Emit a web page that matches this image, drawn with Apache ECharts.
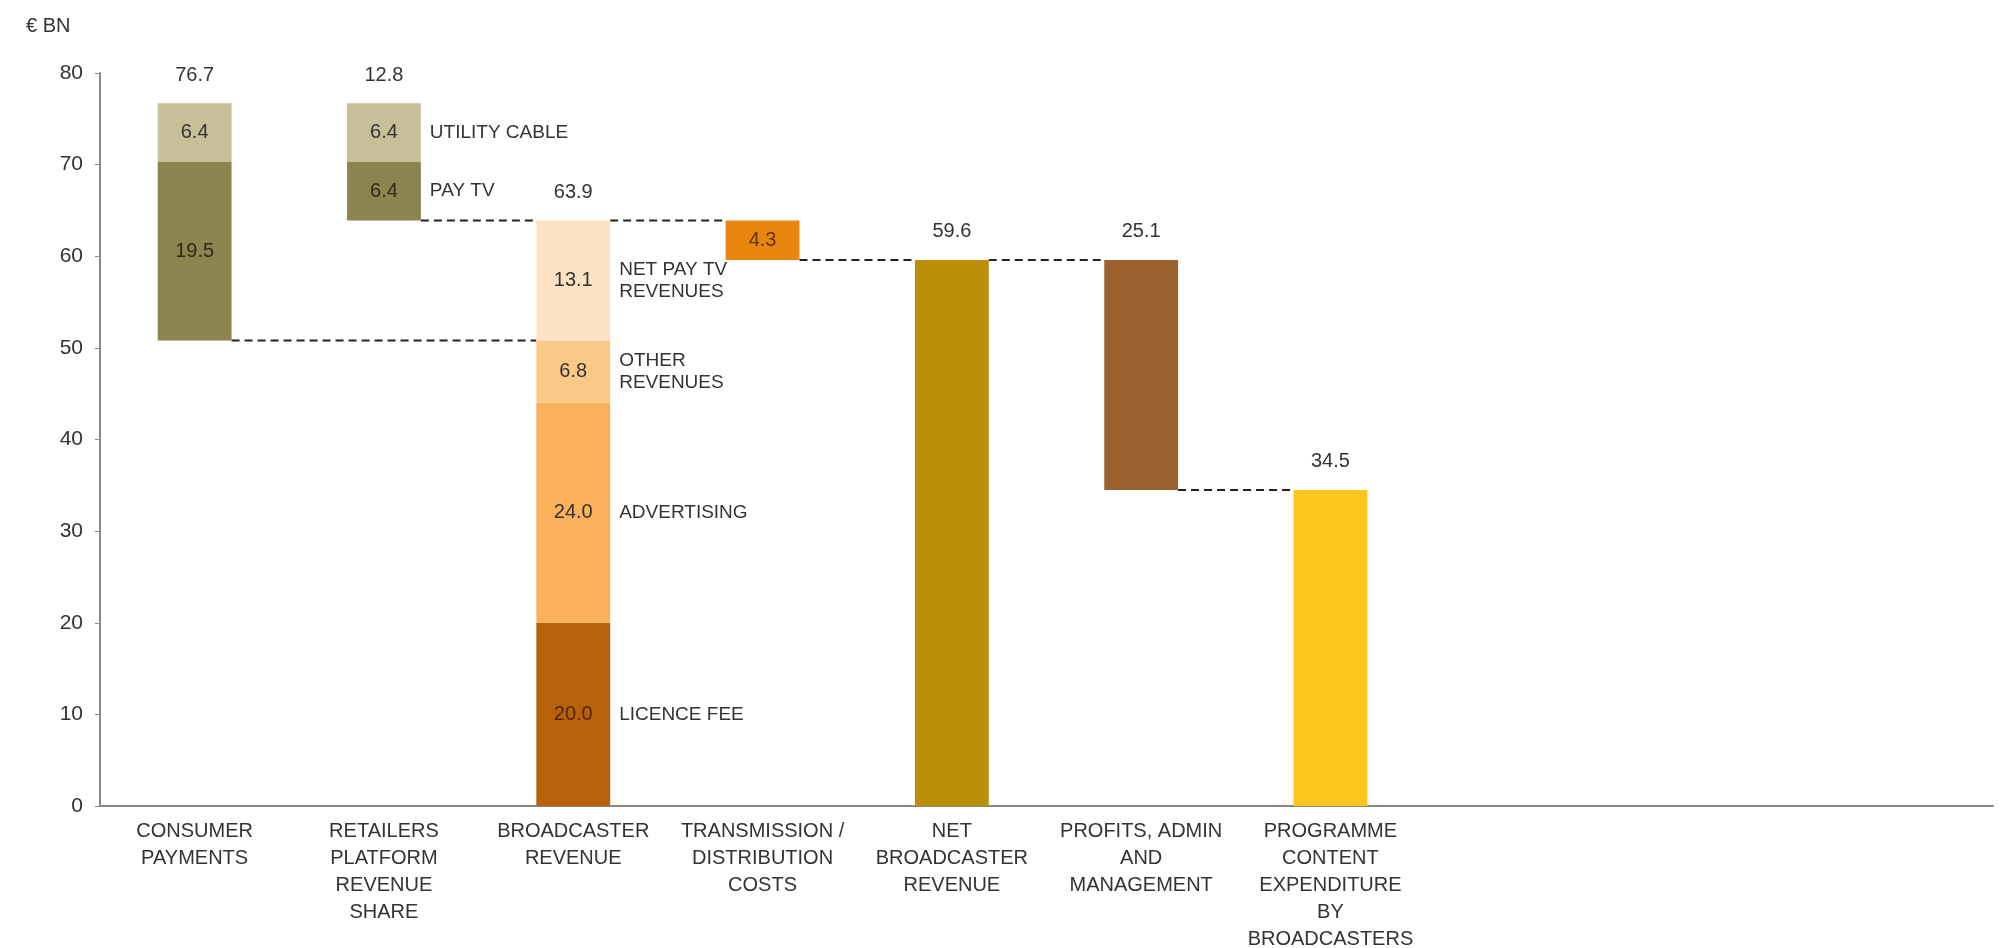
<!DOCTYPE html>
<html>
<head>
<meta charset="utf-8">
<script src="https://cdn.jsdelivr.net/npm/echarts@6/dist/echarts.min.js"></script>
<style>
html,body{margin:0;padding:0;background:#fff;}
#chart{width:2001px;height:948px;}
</style>
</head>
<body>
<div id="chart"></div>
<script>
// ---- data ----
const categories = [
  'CONSUMER\nPAYMENTS',
  'RETAILERS\nPLATFORM\nREVENUE\nSHARE',
  'BROADCASTER\nREVENUE',
  'TRANSMISSION /\nDISTRIBUTION\nCOSTS',
  'NET\nBROADCASTER\nREVENUE',
  'PROFITS, ADMIN\nAND\nMANAGEMENT',
  'PROGRAMME\nCONTENT\nEXPENDITURE\nBY\nBROADCASTERS',
  '', '', ''
];
const yTicks = [0, 10, 20, 30, 40, 50, 60, 70, 80];
const baseValues = [50.8, 63.9, 0, 59.6, 0, 34.5, 0];
const segment1 = [19.5, 6.4, 20.0, 4.3, 59.6, 25.1, 34.5];
const segment2 = [6.4, 6.4, 24.0, null, null, null, null];
const segment3 = [null, null, 6.8, null, null, null, null];
const segment4 = [null, null, 13.1, null, null, null, null];
const totals = [76.7, 12.8, 63.9, null, 59.6, 25.1, 34.5];
const sideLabels1 = [null, 'PAY TV', 'LICENCE FEE', null, null, null, null];
const sideLabels2 = [null, 'UTILITY CABLE', 'ADVERTISING', null, null, null, null];
const sideLabels3 = [null, null, 'OTHER\nREVENUES', null, null, null, null];
const sideLabels4 = [null, null, 'NET PAY TV\nREVENUES', null, null, null, null];
const connectors = [[0, 2, 50.8], [1, 2, 63.9], [2, 3, 63.9], [3, 4, 59.6], [4, 5, 59.6], [5, 6, 34.5]];

// ---- styles ----
const colors1 = ['#8c8550', '#8c8550', '#b5620a', '#e8860e', '#bb8f07', '#9c6331', '#fcc61c'];
const colors2 = ['#c7bf97', '#c7bf97', '#fbb15c'];
const colors3 = [null, null, '#fcc888'];
const colors4 = [null, null, '#fde3c4'];
const labelColors1 = ['#2b2a14', '#2b2a14', '#5a2400', '#6a3000'];
const FONT = "'Liberation Sans', Arial, sans-serif";
const BAR_W = 0.39;

const segments = [segment1, segment2, segment3, segment4];
const segColors = [colors1, colors2, colors3, colors4];
const sideLabels = [sideLabels1, sideLabels2, sideLabels3, sideLabels4];

const tops = baseValues.map((b, i) => b + segments.reduce((s, seg) => s + (seg[i] || 0), 0));

const common = { type: 'bar', barWidth: (BAR_W * 100) + '%', barGap: '-100%' };

const series = [];
// main stack
series.push(Object.assign({}, common, {
  name: 'base', stack: 'main', silent: true,
  itemStyle: { color: 'transparent' }, data: baseValues, z: 3
}));
segments.forEach((seg, k) => {
  series.push(Object.assign({}, common, {
    name: 'seg' + (k + 1), stack: 'main', z: 3,
    data: seg.map((v, i) => v == null ? null : ({
      value: v,
      itemStyle: { color: segColors[k][i] },
      label: {
        show: v !== totals[i],
        position: 'inside',
        formatter: (p) => p.value.toFixed(1),
        color: k === 0 ? (labelColors1[i] || '#333') : '#333',
        fontSize: 20, fontFamily: FONT
      }
    }))
  }));
});
// side label stack (transparent duplicates)
series.push(Object.assign({}, common, {
  name: 'sbase', stack: 'side', silent: true,
  itemStyle: { color: 'transparent' }, data: baseValues, z: 4
}));
segments.forEach((seg, k) => {
  series.push(Object.assign({}, common, {
    name: 'side' + (k + 1), stack: 'side', silent: true, z: 4,
    itemStyle: { color: 'transparent' },
    data: seg.map((v, i) => v == null ? null : ({
      value: v,
      label: {
        show: !!sideLabels[k][i],
        position: 'right', distance: 9,
        formatter: sideLabels[k][i] || '',
        color: '#333', fontSize: 19, lineHeight: 22, fontFamily: FONT, align: 'left'
      }
    }))
  }));
});
// totals
series.push(Object.assign({}, common, {
  name: 'totals', stack: 'tot', silent: true, z: 4,
  itemStyle: { color: 'transparent' },
  data: tops.map((t, i) => totals[i] == null ? null : ({
    value: t,
    label: {
      show: true, position: 'top', distance: 18,
      formatter: totals[i].toFixed(1),
      color: '#333', fontSize: 20, fontFamily: FONT
    }
  }))
}));
// connectors
series.push({
  type: 'custom', name: 'connectors', silent: true, z: 2,
  encode: { x: 0, y: 2 },
  data: connectors,
  renderItem: function (params, api) {
    const from = api.value(0), to = api.value(1), v = api.value(2);
    const p1 = api.coord([from, v]);
    const p2 = api.coord([to, v]);
    const half = api.size([1, 0])[0] * BAR_W / 2;
    return {
      type: 'line',
      shape: { x1: p1[0] + half, y1: p1[1], x2: p2[0] - half, y2: p2[1] },
      style: { stroke: '#222', lineWidth: 2, lineDash: [8, 5] }
    };
  }
});

const chart = echarts.init(document.getElementById('chart'), null, { renderer: 'canvas' });
chart.setOption({
  animation: false,
  backgroundColor: '#fff',
  textStyle: { fontFamily: FONT },
  graphic: [{
    type: 'text', left: 26, top: 16,
    style: { text: '€ BN', fontSize: 20, fill: '#333', fontFamily: FONT }
  }],
  grid: { left: 100, right: 8, top: 73, bottom: 142, containLabel: false, outerBoundsMode: 'none' },
  xAxis: {
    type: 'category', data: categories,
    axisLine: { lineStyle: { color: '#888', width: 2 } },
    axisTick: { show: false },
    axisLabel: { interval: 0, color: '#333', fontSize: 20, lineHeight: 27, margin: 12, fontFamily: FONT }
  },
  yAxis: {
    type: 'value', min: yTicks[0], max: yTicks[yTicks.length - 1], interval: yTicks[1] - yTicks[0],
    axisLine: { show: true, lineStyle: { color: '#888', width: 2 } },
    axisTick: { show: true, length: 5, lineStyle: { color: '#888' } },
    splitLine: { show: false },
    axisLabel: { color: '#333', fontSize: 21, margin: 17, fontFamily: FONT }
  },
  series: series
});
</script>
</body>
</html>
